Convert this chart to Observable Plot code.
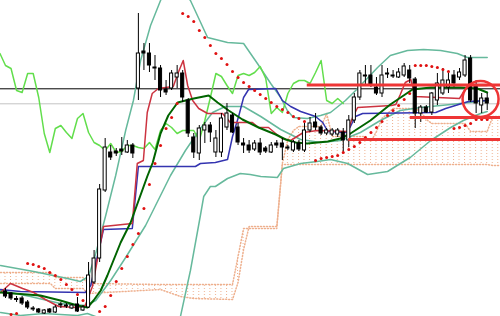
<!DOCTYPE html>
<html><head><meta charset="utf-8">
<script src="https://cdn.jsdelivr.net/npm/d3@7"></script>
<script src="https://cdn.jsdelivr.net/npm/@observablehq/plot@0.6"></script>
<style>html,body{margin:0;padding:0;background:#fff;}#chart svg{display:block;}</style>
</head><body><div id="chart"></div>
<script>
// Price in pips above chart floor; bar index as time.
const opens  = [25,23,17.5,18,14,8,7,3,7,4,12,10,8,12,6,9,34,58,126,164,165,167,164,171,228,265,263,249,248,227,228,239,243,216,179,163,186,191,164,164,189,201,189,173,171,167,173,168,164,173,173,169,166,173,166,186,194,189,183,182,182,184,176,196,219,241,241,229,223,242,240,239,241,246,237,203,209,204,216,223,229,241,239,241,258,231,211,218];
const highs  = [28,24,20,20,16,10,8,7,8,11,14,13,12,19,11,54,66,132,178,171,168,179,176,173,303,273,273,261,251,236,246,251,246,218,183,191,194,194,186,203,213,203,193,178,176,176,178,170,174,176,178,171,176,176,193,199,203,191,188,188,188,188,201,223,246,251,251,239,251,248,246,248,253,251,239,211,211,224,243,248,243,246,248,261,261,236,223,223];
const lows   = [18,16,14,11,7,5,3,2,3,3,8,8,7,4,5,8,32,54,124,156,160,161,163,158,216,246,244,236,219,221,226,228,214,179,158,156,173,174,159,159,186,183,171,163,163,165,161,163,163,168,156,166,164,165,164,184,186,181,181,180,179,163,169,193,216,231,229,221,219,238,238,238,239,233,188,194,203,201,211,221,223,229,236,239,214,203,203,206];
const closes = [20,18,16.5,13,9,7,4,6,4,9,11,11,11,5,9,41,58,127,169,159,163,165,171,163,263,263,251,248,226,224,243,243,219,183,164,188,191,184,178,198,203,184,174,171,166,173,164,165,171,171,169,168,174,167,186,193,189,183,186,186,186,176,196,219,243,240,231,223,241,243,241,244,250,238,203,209,204,223,233,236,236,233,244,256,216,213,218,213];

// Lagging span (light green), drawn from bar -1 onward
const chikou = [263,251,248,226,224,243,243,219,183,164,188,191,184,178,198,203,184,174,171,166,173,164,165,171,171,169,168,174,167,186,193,189,183,186,186,186,176,196,219,243,240,231,223,241,243,241,244,250,238,203,209,204,223,233,236,236,233,244,256,216,213,218,213];

// [bar, value]
const tenkan = [[-0.9,24],[0.9,33],[3.1,28],[5.1,24],[7.2,17],[9.6,10],[13.0,9],[14.4,11],[15.7,30],[17.7,90],[22.9,93],[23.8,153],[24.9,156],[25.6,204],[26.5,223],[27.6,228],[30.3,230],[31.2,244],[32.1,256],[32.9,231],[33.8,216],[34.9,208],[36.5,203],[39.2,203],[40.6,194],[44.6,194],[45.7,189],[47.5,189],[48.8,183],[50.0,178],[51.5,176],[53.8,184],[56.3,186],[61.8,185],[62.7,199],[63.6,209],[69.7,211],[70.5,212],[71.3,222],[72.2,234],[73.2,237],[74.0,220],[82.0,218],[83.0,227],[84.0,231],[87.0,231]];
const kijun = [[-0.9,27],[2.7,25],[14.4,24],[15.4,31],[17.7,87],[22.9,88],[24.0,150],[34.3,150],[35.2,153],[37.9,154],[40.1,157],[41.0,180],[42.1,200],[43.0,219],[43.9,227],[48.8,228],[50.0,216],[51.5,210],[53.3,205],[56.0,200],[57.3,194],[58.2,185],[61.6,184],[62.3,190],[63.2,200],[64.5,203],[77.7,204],[79.5,208],[83.6,215],[87.2,216]];
const movingAvg = [[-0.9,24],[6.3,21],[9.9,16],[13.0,11],[14.8,9],[15.9,16],[17.2,26],[18.4,41],[20.8,74],[22.6,94],[25.6,140],[26.6,154],[28.0,183],[29.4,201],[31.1,214],[34.0,218],[36.7,221],[38.3,214],[40.3,206],[42.8,197],[45.7,189],[48.8,182],[50.6,177],[52.4,174],[54.5,173],[58.2,175],[60.5,178],[62.3,183],[65.9,196],[69.5,212],[71.9,221],[73.5,227],[76.8,229],[82.2,229],[85.2,228],[87.0,224]];
const bandUpper = [[-0.9,51],[5.1,45],[11.2,38],[13.5,35],[15.0,40],[16.3,63],[18.1,101],[19.9,141],[21.7,186],[23.1,216],[24.4,256],[26.2,291],[28.0,316],[30.2,338],[33.4,316],[36.5,279],[40.1,274],[43.0,273],[45.5,253],[47.9,233],[49.7,219],[50.9,206],[52.0,199],[54.5,198],[56.9,201],[58.7,204],[61.4,216],[63.6,228],[67.2,249],[69.5,261],[72.6,266],[75.5,267],[78.6,266],[81.6,263],[83.4,259],[87.0,259]];
const bandMiddle = [[-0.9,26],[4.5,20],[9.9,13],[14.4,11],[16.3,16],[19.0,36],[21.7,59],[25.3,91],[29.8,141],[32.5,166],[35.2,188],[37.4,204],[39.7,210],[43.0,210],[46.1,200],[49.7,187],[53.3,177],[56.9,174],[60.5,176],[64.1,184],[67.7,196],[71.3,206],[75.0,209],[80.4,212],[87.0,216]];
const bandLower = [[-0.9,4],[2.7,1],[6.9,3],[13.0,1],[14.8,3],[17.2,-2],[19.0,-24],[29.8,-24],[31.6,0],[33.4,46],[35.2,101],[35.8,120],[37.0,130],[37.9,130],[40.1,138],[42.4,143],[44.2,142],[46.1,140],[49.1,139],[50.2,148],[53.3,153],[56.3,155],[58.7,157],[61.8,153],[65.4,142],[69.0,145],[71.9,155],[73.1,159],[76.8,176],[80.4,189],[82.7,196],[85.8,203],[87.0,205]];
// [bar, span A, span B]
const cloud = [[-0.9,44,33],[8.1,44,33],[9.0,39,28],[14.0,39,28],[14.8,33,23],[28.0,32,27],[31.6,32,20],[34.0,32,18],[41.0,32,17],[42.0,60,34],[43.0,88,67],[44.0,88,90],[49.0,88,90],[50.0,153,152],[51.0,177,152],[52.0,186,152],[53.0,190,152],[57.0,190,152],[58.0,203,152],[59.0,180,152],[65.0,180,152],[66.0,175,152],[67.0,185,152],[68.0,198,152],[70.0,208,152],[74.0,208,152],[75.0,205,152],[76.0,197,152],[77.0,193,152],[83.0,193,152],[84.0,185,152],[87.0,185,152],[88.0,200,151],[89.4,200,151]];
const sar = [[1,2],[2,3],[4,53],[5,52],[6,50],[7,48],[8,44],[9,41],[10,37],[11,32],[12,27],[13,22],[14,16],[17,5],[18,10],[19,21],[20,35],[21,48],[22,60],[23,72],[24,83],[25,108],[26,132],[27,153],[28,171],[29,188],[30,199],[31,213],[32,303],[33,300],[34,295],[35,286],[36,279],[37,271],[38,263],[39,258],[40,252],[41,245],[42,239],[43,234],[44,230],[45,226],[46,222],[47,218],[48,214],[49,210],[50,207],[51,204],[52,200],[53,198],[54,195],[56,156],[57,158],[58,159],[59,160],[60,161],[61,164],[62,167],[63,170],[64,174],[65,179],[66,184],[67,189],[68,195],[69,201],[70,206],[71,211],[72,217],[73,223],[74,251],[75,251],[76,251],[77,250],[78,249],[79,247],[80,245],[81,188],[82,189],[83,191],[84,193],[85,197],[86,197],[87,197]];
const blackLevel = 227.7;
const grayLevel = 212.7;
const redLevels = [[231.5,54.5],[199,73.1],[177,62.0]]; // [value, from bar]
const circledBar = [85.8, 217.5];

const bars = closes.map((c, i) => ({i, o: opens[i], h: highs[i], l: lows[i], c}));
const pts = a => a.map(([i, p]) => ({i, p}));
const chikouData = chikou.map((p, k) => ({i: k - 1, p}));
const cloudData = cloud.map(([i, a, b]) => ({i, a, b}));
const xMax = 89.4;
const redData = redLevels.map(([p, from]) => ({p, from, to: xMax}));

const teal = "#66b99c", cloudColor = "#eeb08e", red = "#ee3535";

const chart = Plot.plot({
  width: 500, height: 316, margin: 0,
  x: {domain: [-0.903, xMax], axis: null},
  y: {domain: [0, 316], axis: null},
  color: {type: "identity"},
  style: {background: "#fff", overflow: "hidden"},
  marks: [
    Plot.areaY(cloudData, {x: "i", y1: "a", y2: "b", fill: "url(#ichimokuHatch)", clip: true}),
    Plot.line(cloudData, {x: "i", y: "a", stroke: cloudColor, strokeDasharray: "1,2", clip: true}),
    Plot.line(cloudData, {x: "i", y: "b", stroke: cloudColor, strokeDasharray: "1,2", clip: true}),
    Plot.ruleY([grayLevel], {stroke: "#c4c4c4"}),
    Plot.ruleY([blackLevel], {stroke: "#000"}),
    Plot.line(pts(bandUpper), {x: "i", y: "p", stroke: teal, clip: true}),
    Plot.line(pts(bandMiddle), {x: "i", y: "p", stroke: teal, clip: true}),
    Plot.line(pts(bandLower), {x: "i", y: "p", stroke: teal, clip: true}),
    Plot.line(chikouData, {x: "i", y: "p", stroke: "#62de4c", clip: true}),
    Plot.line(pts(kijun), {x: "i", y: "p", stroke: "#3434b0", clip: true}),
    Plot.line(pts(tenkan), {x: "i", y: "p", stroke: "#cc3340", clip: true}),
    Plot.line(pts(movingAvg), {x: "i", y: "p", stroke: "#006400", strokeWidth: 2, clip: true}),
    Plot.ruleX(bars, {x: "i", y1: "l", y2: "h", stroke: "#000"}),
    Plot.rect(bars, {x1: d => d.i - 0.28, x2: d => d.i + 0.28, y1: "o", y2: "c",
      fill: d => d.c >= d.o ? "#fff" : "#000", stroke: "#000", strokeWidth: 1}),
    Plot.dot(pts(sar), {x: "i", y: "p", r: 1.5, fill: "#e01010", stroke: "none"}),
    Plot.ruleY(redData, {y: "p", x1: "from", x2: "to", stroke: red, strokeWidth: 3}),
    Plot.dot([circledBar], {x: d => d[0], y: d => d[1], r: 18, stroke: red, strokeWidth: 2.5, fill: "none"})
  ]
});

const xs = chart.scale("x");
const step = xs.apply(1) - xs.apply(0);
const x0 = xs.apply(0) - 0.5;
const ns = "http://www.w3.org/2000/svg";
const defs = document.createElementNS(ns, "defs");
const pat = document.createElementNS(ns, "pattern");
pat.setAttribute("id", "ichimokuHatch");
pat.setAttribute("patternUnits", "userSpaceOnUse");
pat.setAttribute("x", x0);
pat.setAttribute("y", 0);
pat.setAttribute("width", step);
pat.setAttribute("height", 3);
const dotRect = document.createElementNS(ns, "rect");
dotRect.setAttribute("width", 1);
dotRect.setAttribute("height", 1);
dotRect.setAttribute("fill", cloudColor);
pat.appendChild(dotRect);
defs.appendChild(pat);
chart.insertBefore(defs, chart.firstChild);
document.getElementById("chart").appendChild(chart);
</script>
</body></html>
